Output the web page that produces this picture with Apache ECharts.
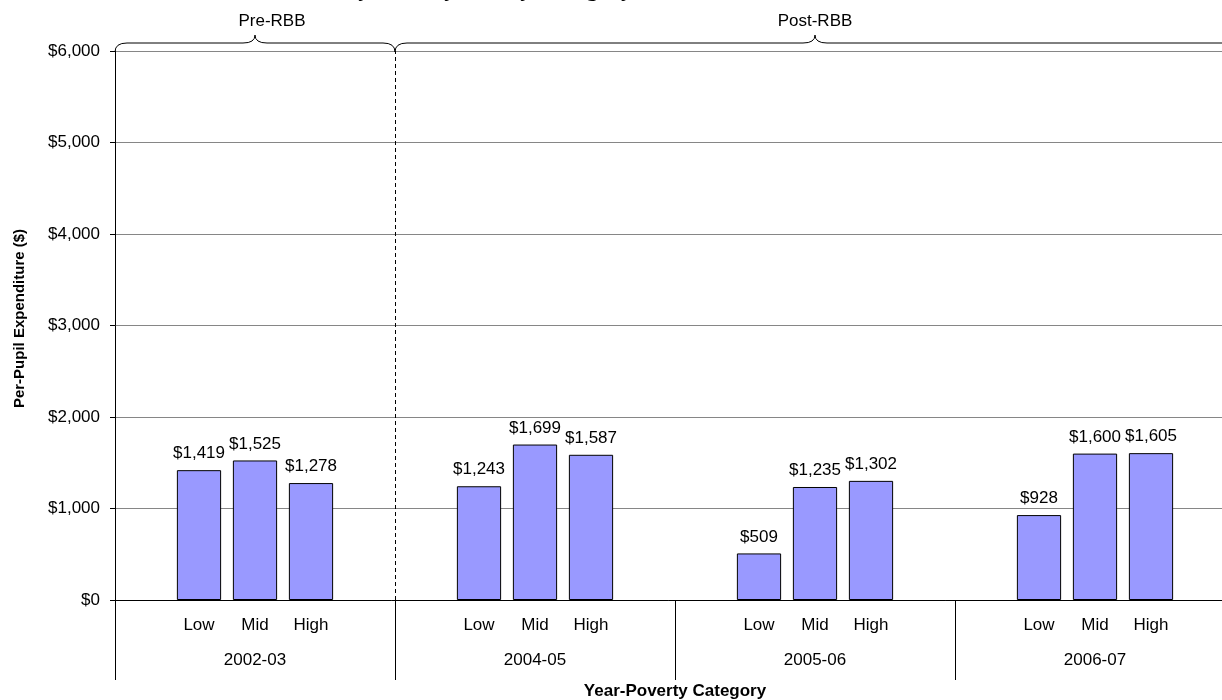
<!DOCTYPE html>
<html>
<head>
<meta charset="utf-8">
<script src="https://cdn.jsdelivr.net/npm/echarts@6/dist/echarts.min.js"></script>
<style>
html,body{margin:0;padding:0;background:#fff;}
#chart{width:1222px;height:700px;}
</style>
</head>
<body>
<div id="chart"></div>
<script>
// ---- data ----
var years = ['2002-03', '2004-05', '2005-06', '2006-07'];
var povertyLevels = ['Low', 'Mid', 'High'];
var values2002 = [1419, 1525, 1278];
var values2004 = [1243, 1699, 1587];
var values2005 = [509, 1235, 1302];
var values2006 = [928, 1600, 1605];
var yTicks = [0, 1000, 2000, 3000, 4000, 5000, 6000];
var periodLabels = ['Pre-RBB', 'Post-RBB'];
var titleText = 'Total Funds by Poverty and by Category';

var groups = [values2002, values2004, values2005, values2006];
var slotLabels = [];
var slotValues = [];
groups.forEach(function (g) {
  slotLabels.push('');
  slotValues.push(null);
  g.forEach(function (v, i) {
    slotLabels.push(povertyLevels[i]);
    slotValues.push(v);
  });
  slotLabels.push('');
  slotValues.push(null);
});
var nSlots = slotLabels.length;
var slotsPerGroup = povertyLevels.length + 2;

function money(v) {
  return '$' + Number(v).toLocaleString('en-US');
}

var FONT = 'Liberation Sans, Arial, sans-serif';
var FS = 17;
var chart = echarts.init(document.getElementById('chart'));

var option = {
  animation: false,
  backgroundColor: '#ffffff',
  grid: { left: 115, right: -13, top: 51, bottom: 100, containLabel: false, outerBoundsMode: 'none' },
  xAxis: [
    {
      type: 'category',
      data: slotLabels,
      position: 'bottom',
      axisLine: { show: true, lineStyle: { color: '#000', width: 1 } },
      axisTick: { show: false },
      axisLabel: { interval: 0, color: '#000', fontFamily: FONT, fontSize: FS, margin: 17 },
      splitLine: { show: false }
    },
    {
      type: 'category',
      data: years,
      position: 'bottom',
      boundaryGap: true,
      axisLine: { show: false },
      axisTick: { show: true, interval: 0, length: 80, lineStyle: { color: '#000', width: 1 } },
      axisLabel: { interval: 0, color: '#000', fontFamily: FONT, fontSize: FS, margin: 52 },
      name: 'Year-Poverty Category',
      nameLocation: 'middle',
      nameGap: 83,
      nameTextStyle: { color: '#000', fontFamily: FONT, fontSize: FS, fontWeight: 'bold' }
    },
    {
      type: 'value',
      min: 0,
      max: nSlots,
      show: false
    }
  ],
  yAxis: {
    type: 'value',
    min: yTicks[0],
    max: yTicks[yTicks.length - 1],
    interval: 1000,
    axisLine: { show: true, lineStyle: { color: '#000', width: 1 } },
    axisTick: { show: true, length: 5, lineStyle: { color: '#000' } },
    axisLabel: { color: '#000', fontFamily: FONT, fontSize: FS, margin: 15, formatter: money },
    splitLine: { show: true, lineStyle: { color: '#868686', width: 1 } },
    name: 'Per-Pupil Expenditure ($)',
    nameLocation: 'middle',
    nameRotate: 90,
    nameGap: 88,
    nameTextStyle: { color: '#000', fontFamily: FONT, fontSize: 15, fontWeight: 'bold', padding: [0, 0, 0, 14] }
  },
  series: [
    {
      type: 'bar',
      xAxisIndex: 0,
      data: slotValues,
      barCategoryGap: '21%',
      itemStyle: { color: '#9999FF', borderColor: '#000', borderWidth: 1 },
      label: {
        show: true,
        position: 'top',
        distance: 8,
        color: '#000',
        fontFamily: FONT,
        fontSize: FS,
        formatter: function (p) { return money(p.value); }
      }
    },
    {
      type: 'line',
      xAxisIndex: 2,
      data: [],
      markLine: {
        silent: true,
        symbol: 'none',
        label: { show: false },
        lineStyle: { type: [4, 3], color: '#000', width: 1 },
        data: [{ xAxis: slotsPerGroup }]
      }
    }
  ]
};
chart.setOption(option);

function braceElements(x1, x2, cx, yEnd, yMid, yTip) {
  var r = 12;
  var st = { stroke: '#000', lineWidth: 1, fill: null };
  function curve(ax, ay, cpx, cpy, bx, by) {
    return { type: 'bezierCurve', silent: true, style: st,
      shape: { x1: ax, y1: ay, cpx1: cpx, cpy1: cpy, x2: bx, y2: by } };
  }
  function seg(ax, ay, bx, by) {
    return { type: 'line', silent: true, style: st,
      shape: { x1: ax, y1: ay, x2: bx, y2: by } };
  }
  return [
    curve(x1, yEnd, x1, yMid, x1 + r, yMid),
    seg(x1 + r, yMid, cx - r, yMid),
    curve(cx - r, yMid, cx, yMid, cx, yTip),
    curve(cx, yTip, cx, yMid, cx + r, yMid),
    seg(cx + r, yMid, x2 - r, yMid),
    curve(x2 - r, yMid, x2, yMid, x2, yEnd)
  ];
}

function drawExtras() {
  var xa = chart.convertToPixel({ xAxisIndex: 2 }, 0);
  var xb = chart.convertToPixel({ xAxisIndex: 2 }, slotsPerGroup);
  var xc = chart.convertToPixel({ xAxisIndex: 2 }, nSlots);
  var y6 = chart.convertToPixel({ yAxisIndex: 0 }, yTicks[yTicks.length - 1]);
  var yEnd = y6 + 1, yMid = y6 - 8, yTip = y6 - 16;
  var c1 = (xa + xb) / 2, c2 = (xb + xc) / 2;
  var els = [].concat(
    braceElements(xa, xb, c1, yEnd, yMid, yTip),
    braceElements(xb, xc, c2, yEnd, yMid, yTip)
  );
  els.push(
    { type: 'text', x: c1 + 17, y: 21, silent: true,
      style: { text: periodLabels[0], fill: '#000', font: FS + 'px ' + FONT, textAlign: 'center', textVerticalAlign: 'middle' } },
    { type: 'text', x: c2, y: 21, silent: true,
      style: { text: periodLabels[1], fill: '#000', font: FS + 'px ' + FONT, textAlign: 'center', textVerticalAlign: 'middle' } },
    { type: 'text', x: 633, y: -10, silent: true,
      style: { text: titleText, fill: '#000', font: 'bold 24px Liberation Serif, Times New Roman, serif', textAlign: 'right', textVerticalAlign: 'middle' } }
  );
  chart.setOption({ graphic: els });
}
drawExtras();
</script>
</body>
</html>
